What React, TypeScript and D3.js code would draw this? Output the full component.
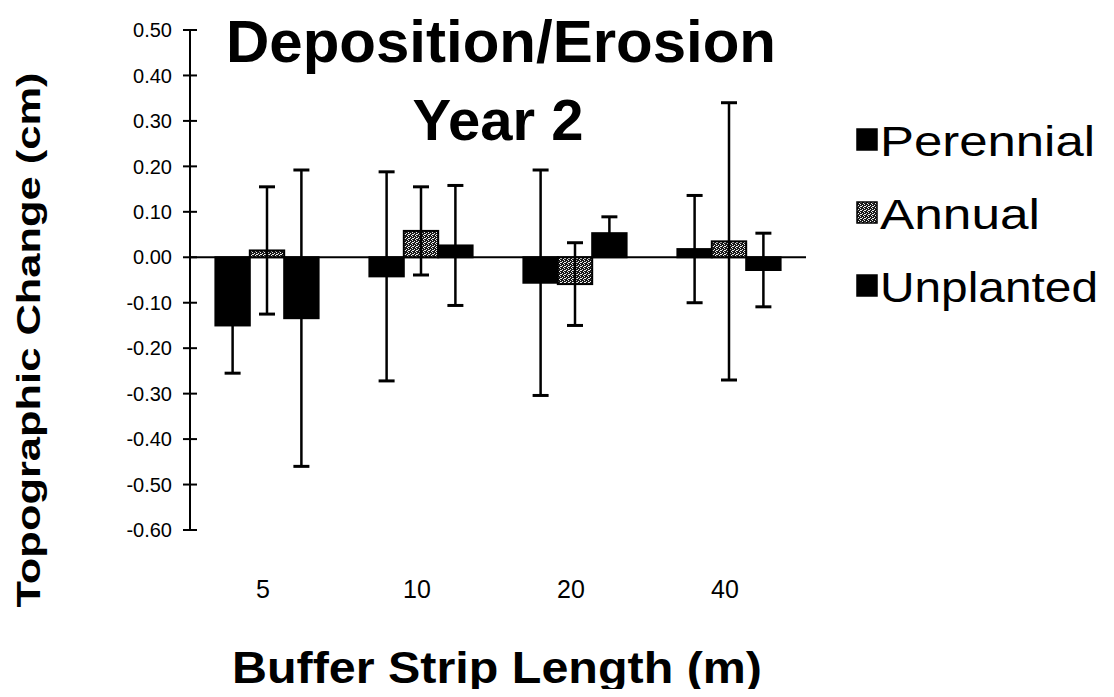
import React, { useEffect, useRef } from "react";
import * as d3 from "d3";

const categories = ["5", "10", "20", "40"];
const seriesNames = ["Perennial", "Annual", "Unplanted"];
// mean values (cm)
const perennial = [-0.15, -0.042, -0.056, 0.018];
const annual = [0.015, 0.058, -0.059, 0.035];
const unplanted = [-0.134, 0.026, 0.053, -0.028];
// error bar half-widths
const perennialErr = [0.105, 0.23, 0.248, 0.118];
const annualErr = [0.14, 0.097, 0.091, 0.305];
const unplantedErr = [0.326, 0.132, 0.036, 0.081];
const yTicks = [0.5, 0.4, 0.3, 0.2, 0.1, 0, -0.1, -0.2, -0.3, -0.4, -0.5, -0.6];
const legendWidths = [215, 160, 218];

const App = () => {
  const ref = useRef<SVGSVGElement>(null);
  const width = 1114;
  const height = 697;

  useEffect(() => {
    if (!ref.current) return;
    const svg = d3.select(ref.current);
    svg.selectAll("*").remove();

    const left = 190;
    const right = 806;
    const top = 30;
    const bottom = 530;
    const font = "Arial, 'Liberation Sans', Helvetica, sans-serif";

    const y = d3.scaleLinear().domain([-0.6, 0.5]).range([bottom, top]);
    const x = d3.scaleBand().domain(categories).range([left, right]).paddingInner(0.33).paddingOuter(0.165);
    const xs = d3.scaleBand().domain(seriesNames).range([0, x.bandwidth()]);

    // speckled fill for the Annual series
    const defs = svg.append("defs");
    const pa = defs.append("pattern").attr("id", "pat-ann").attr("width", 4).attr("height", 4).attr("patternUnits", "userSpaceOnUse");
    pa.append("rect").attr("width", 4).attr("height", 4).attr("fill", "#1a1a1a");
    [[0, 0], [2, 1], [1, 2], [3, 3], [0, 2]].forEach(([a, b]) => pa.append("rect").attr("x", a).attr("y", b).attr("width", 1).attr("height", 1).attr("fill", "#eee"));

    const fills = ["#000", "url(#pat-ann)", "#000"];
    const values = [perennial, annual, unplanted];
    const errs = [perennialErr, annualErr, unplantedErr];

    const g = svg.append("g");

    // zero line
    g.append("line").attr("x1", left).attr("x2", right).attr("y1", y(0)).attr("y2", y(0)).attr("stroke", "#000").attr("stroke-width", 2);

    // bars
    seriesNames.forEach((s, si) => {
      categories.forEach((c, ci) => {
        const v = values[si][ci];
        const bx = (x(c) as number) + (xs(s) as number);
        g.append("rect")
          .attr("x", bx)
          .attr("y", y(Math.max(0, v)))
          .attr("width", xs.bandwidth())
          .attr("height", Math.abs(y(v) - y(0)))
          .attr("fill", fills[si])
          .attr("stroke", "#000")
          .attr("stroke-width", 2);
      });
    });

    // error bars
    seriesNames.forEach((s, si) => {
      categories.forEach((c, ci) => {
        const v = values[si][ci];
        const e = errs[si][ci];
        const cx = (x(c) as number) + (xs(s) as number) + xs.bandwidth() / 2;
        g.append("line").attr("x1", cx).attr("x2", cx).attr("y1", y(v + e)).attr("y2", y(v - e)).attr("stroke", "#000").attr("stroke-width", 2.5);
        [v + e, v - e].forEach((w) => {
          g.append("line").attr("x1", cx - 8).attr("x2", cx + 8).attr("y1", y(w)).attr("y2", y(w)).attr("stroke", "#000").attr("stroke-width", 3);
        });
      });
    });

    // y axis
    g.append("line").attr("x1", left).attr("x2", left).attr("y1", top).attr("y2", bottom).attr("stroke", "#000").attr("stroke-width", 2);
    yTicks.forEach((t) => {
      g.append("line").attr("x1", left - 7).attr("x2", left + 7).attr("y1", y(t)).attr("y2", y(t)).attr("stroke", "#000").attr("stroke-width", 2);
      g.append("text")
        .attr("x", left - 18)
        .attr("y", y(t))
        .attr("dy", "0.36em")
        .attr("text-anchor", "end")
        .style("font-family", font)
        .style("font-size", "20px")
        .text(t.toFixed(2));
    });

    // category labels
    categories.forEach((c) => {
      g.append("text")
        .attr("x", (x(c) as number) + x.bandwidth() / 2 - 4)
        .attr("y", 598)
        .attr("text-anchor", "middle")
        .style("font-family", font)
        .style("font-size", "25px")
        .text(c);
    });

    // titles
    g.append("text").attr("x", 501).attr("y", 62).attr("text-anchor", "middle")
      .style("font-family", font).style("font-size", "60px").style("font-weight", "bold").text("Deposition/Erosion");
    g.append("text").attr("x", 498).attr("y", 140).attr("text-anchor", "middle")
      .style("font-family", font).style("font-size", "58px").style("font-weight", "bold").text("Year 2");

    g.append("text").attr("x", 497).attr("y", 683).attr("text-anchor", "middle")
      .attr("textLength", 530).attr("lengthAdjust", "spacingAndGlyphs")
      .style("font-family", font).style("font-size", "44px").style("font-weight", "bold").text("Buffer Strip Length (m)");

    g.append("text").attr("transform", `translate(40, 340) rotate(-90)`).attr("text-anchor", "middle")
      .attr("textLength", 535).attr("lengthAdjust", "spacingAndGlyphs")
      .style("font-family", font).style("font-size", "33px").style("font-weight", "bold").text("Topographic Change (cm)");

    // legend
    seriesNames.forEach((s, i) => {
      const ly = 140 + i * 73;
      g.append("rect").attr("x", 857).attr("y", ly - 11).attr("width", 20).attr("height", 21)
        .attr("fill", fills[i]).attr("stroke", "#000").attr("stroke-width", 1.5);
      g.append("text").attr("x", 880).attr("y", ly + 16)
        .attr("textLength", legendWidths[i]).attr("lengthAdjust", "spacingAndGlyphs")
        .style("font-family", font).style("font-size", "42px").text(s);
    });
  }, []);

  return <svg ref={ref} width={width} height={height} style={{ display: "block", margin: "-8px", background: "#fff" }} />;
};

export default App;
